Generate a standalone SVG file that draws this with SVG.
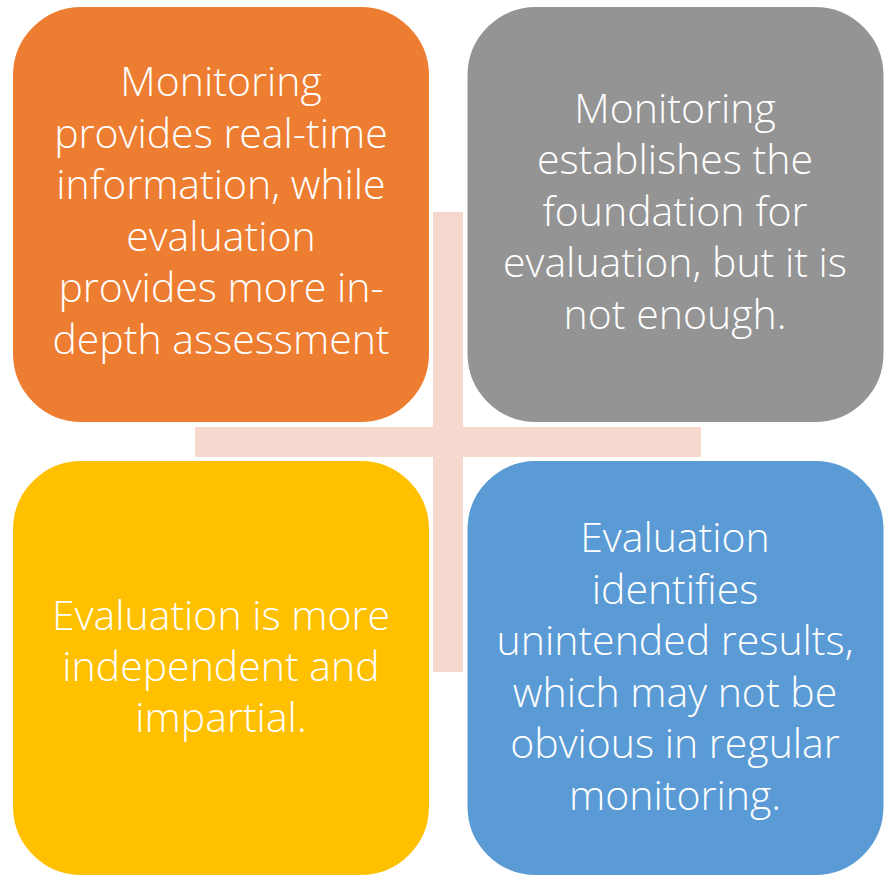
<svg xmlns="http://www.w3.org/2000/svg" width="888" height="879" viewBox="0 0 888 879">
<style>
.box{stroke:#FFFFFF;stroke-width:3}
.t{font-family:"Open Sans","Noto Sans","Liberation Sans",sans-serif;font-weight:300;font-size:41px;fill:#FFFFFF;text-anchor:middle}
</style>
<rect width="888" height="879" fill="#FFFFFF"/>
<g id="cross" fill="#F7D8CE">
<rect x="433" y="212" width="30" height="460"/>
<rect x="195" y="427" width="506" height="30"/>
</g>
<g id="node-orange">
<rect class="box" x="11.5" y="5.5" width="419" height="418" rx="70" fill="#ED7D31"/>
<text class="t" x="221" y="96">Monitoring</text>
<text class="t" x="221" y="147.6">provides real-time</text>
<text class="t" x="221" y="199.2">information, while</text>
<text class="t" x="221" y="250.8">evaluation</text>
<text class="t" x="221" y="302.4">provides more in-</text>
<text class="t" x="221" y="354">depth assessment</text>
</g>
<g id="node-gray">
<rect class="box" x="466" y="5.5" width="419" height="418" rx="70" fill="#949494"/>
<text class="t" x="675" y="122.5">Monitoring</text>
<text class="t" x="675" y="174">establishes the</text>
<text class="t" x="675" y="225.5">foundation for</text>
<text class="t" x="675" y="277">evaluation, but it is</text>
<text class="t" x="675" y="328.5">not enough.</text>
</g>
<g id="node-yellow">
<rect class="box" x="11.5" y="459.5" width="419" height="417" rx="70" fill="#FFC000"/>
<text class="t" x="221" y="630">Evaluation is more</text>
<text class="t" x="221" y="681">independent and</text>
<text class="t" x="221" y="732">impartial.</text>
</g>
<g id="node-blue">
<rect class="box" x="466" y="459.5" width="419" height="417" rx="70" fill="#5B9BD5"/>
<text class="t" x="675" y="552">Evaluation</text>
<text class="t" x="675" y="603.5">identifies</text>
<text class="t" x="675" y="655">unintended results,</text>
<text class="t" x="675" y="706.5">which may not be</text>
<text class="t" x="675" y="758">obvious in regular</text>
<text class="t" x="675" y="809.5">monitoring.</text>
</g>
<g id="connectors"></g>
</svg>
